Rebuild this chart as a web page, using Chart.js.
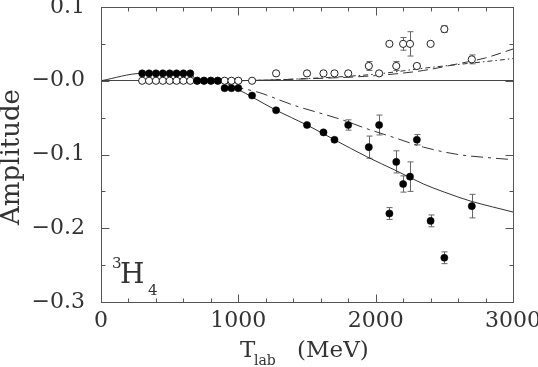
<!DOCTYPE html>
<html>
<head>
<meta charset="utf-8">
<script src="https://cdn.jsdelivr.net/npm/chart.js@4.4.1/dist/chart.umd.min.js"></script>
<style>
  html, body { margin: 0; padding: 0; background: #fff; }
  #wrap { width: 538px; height: 367px; }
</style>
</head>
<body>
<div id="wrap"><canvas id="chart"></canvas></div>
<script>
// 3H4 partial-wave amplitude vs T_lab

// Axis ticks
const xTicks = [0, 1000, 2000, 3000];
const yTicks = [0.1, 0, -0.1, -0.2, -0.3];
const yTickLabels = ['0.1', '\u22120.0', '\u22120.1', '\u22120.2', '\u22120.3'];

// Filled circles (single-energy values, one component)
const filledT   = [300, 350, 400, 450, 500, 550, 600, 650, 700, 750, 800, 850, 900, 950, 1000, 1100, 1275, 1500, 1620, 1700, 1800, 1950, 2025, 2100, 2150, 2200, 2250, 2300, 2400, 2500, 2700];
const filledAmp = [0.01, 0.01, 0.01, 0.01, 0.01, 0.01, 0.01, 0.01, 0, 0, 0, 0, -0.01, -0.01, -0.01, -0.02, -0.04, -0.06, -0.07, -0.08, -0.06, -0.09, -0.06, -0.18, -0.11, -0.14, -0.13, -0.08, -0.19, -0.24, -0.17];
const filledErr = [0, 0, 0, 0, 0, 0, 0, 0, 0, 0, 0, 0, 0, 0, 0, 0, 0, 0, 0, 0, 0.007, 0.015, 0.0135, 0.008, 0.015, 0.011, 0.02, 0.007, 0.008, 0.008, 0.016];

// Open circles (other component)
const openT   = [300, 350, 400, 450, 500, 550, 600, 650, 700, 750, 800, 850, 900, 950, 1000, 1100, 1275, 1500, 1620, 1700, 1800, 1950, 2025, 2100, 2150, 2200, 2250, 2300, 2400, 2500, 2700];
const openAmp = [0, 0, 0, 0, 0, 0, 0, 0, 0, 0, 0, 0, 0, 0, 0, 0, 0.01, 0.01, 0.01, 0.01, 0.01, 0.02, 0.01, 0.05, 0.02, 0.05, 0.05, 0.02, 0.05, 0.07, 0.029];
const openErr = [0, 0, 0, 0, 0, 0, 0, 0, 0, 0, 0, 0, 0, 0, 0, 0, 0, 0, 0, 0, 0, 0.006, 0, 0, 0.006, 0.0086, 0.0165, 0.003, 0, 0.0045, 0.006];

// Curves
const solidT   = [0, 300, 650, 700, 850, 1000, 1100, 1275, 1500, 1700, 1935, 2150, 2348, 2500, 2688, 2850, 3000];
const solidAmp = [0, 0.01, 0.01, 0, 0, -0.012, -0.022, -0.04, -0.06, -0.08, -0.103, -0.122, -0.14, -0.151, -0.163, -0.171, -0.178];

const dashDotLowT   = [950, 1134, 1400, 1740, 1935, 2150, 2348, 2600, 2800, 3000];
const dashDotLowAmp = [-0.008, -0.015, -0.033, -0.052, -0.065, -0.078, -0.09, -0.1, -0.104, -0.107];

const dashedT   = [1000, 1400, 2000, 2350, 2600, 2800, 3000];
const dashedAmp = [0, 0.002, 0.007, 0.014, 0.023, 0.031, 0.043];

const dashDotUpT   = [1000, 1500, 2000, 2350, 2700, 3000];
const dashDotUpAmp = [0, 0.003, 0.009, 0.017, 0.024, 0.03];

const INK = '#333';
const SERIF = "'DejaVu Serif', serif";

function pts(xs, ys) {
  return xs.map((x, i) => ({ x: x, y: ys[i] }));
}

function curve(xs, ys, dash) {
  return {
    type: 'line',
    data: pts(xs, ys),
    borderColor: INK,
    borderWidth: 1,
    borderDash: dash,
    pointRadius: 0,
    fill: false,
    cubicInterpolationMode: 'monotone',
    order: 3
  };
}

// Error bars, frame, inward ticks and titles
const decorPlugin = {
  id: 'decor',
  beforeDatasetsDraw(chart) {
    const { ctx, scales: { x, y } } = chart;
    ctx.save();
    ctx.strokeStyle = '#666';
    ctx.lineWidth = 1;
    const bars = (ts, vs, es) => {
      ts.forEach((t, i) => {
        if (!es[i]) return;
        const px = Math.round(x.getPixelForValue(t)) + 0.5;
        const y1 = y.getPixelForValue(vs[i] + es[i]);
        const y2 = y.getPixelForValue(vs[i] - es[i]);
        ctx.beginPath();
        ctx.moveTo(px, y1); ctx.lineTo(px, y2);
        ctx.moveTo(px - 3, y1); ctx.lineTo(px + 3, y1);
        ctx.moveTo(px - 3, y2); ctx.lineTo(px + 3, y2);
        ctx.stroke();
      });
    };
    bars(filledT, filledAmp, filledErr);
    bars(openT, openAmp, openErr);
    ctx.restore();
  },
  afterDraw(chart) {
    const { ctx, chartArea: a, scales: { x, y } } = chart;
    ctx.save();
    ctx.strokeStyle = '#555';
    ctx.lineWidth = 1;
    const L = Math.round(a.left) + 0.5, R = Math.round(a.right) + 0.5;
    const T = Math.round(a.top) + 0.5, B = Math.round(a.bottom) + 0.5;
    ctx.strokeRect(L, T, R - L, B - T);

    ctx.beginPath();
    for (let t = 0; t <= 3000; t += 200) {
      const px = Math.round(x.getPixelForValue(t)) + 0.5;
      const len = t % 1000 === 0 ? 8 : 4;
      ctx.moveTo(px, B); ctx.lineTo(px, B - len);
      ctx.moveTo(px, T); ctx.lineTo(px, T + len);
    }
    for (let k = -6; k <= 2; k++) {
      const py = Math.round(y.getPixelForValue(k * 0.05)) + 0.5;
      const len = k % 2 === 0 ? 8 : 4;
      ctx.moveTo(L, py); ctx.lineTo(L + len, py);
      ctx.moveTo(R, py); ctx.lineTo(R - len, py);
    }
    ctx.stroke();

    ctx.fillStyle = INK;
    ctx.textBaseline = 'alphabetic';

    // y title
    ctx.save();
    ctx.translate(19, 157);
    ctx.rotate(-Math.PI / 2);
    ctx.font = '26px ' + SERIF;
    ctx.textAlign = 'center';
    ctx.fillText('Amplitude', 0, 0);
    ctx.restore();

    // x title: T_lab (MeV)
    ctx.textAlign = 'left';
    ctx.font = '23px ' + SERIF;
    ctx.fillText('T', 240, 357);
    ctx.font = '14px ' + SERIF;
    ctx.fillText('lab', 254, 365);
    ctx.font = '23px ' + SERIF;
    ctx.fillText('(MeV)', 297, 357);

    // wave label 3H4
    ctx.font = '15px ' + SERIF;
    ctx.fillText('3', 112, 268);
    ctx.font = '28px ' + SERIF;
    ctx.fillText('H', 120, 283);
    ctx.font = '15px ' + SERIF;
    ctx.fillText('4', 148, 295);
    ctx.restore();
  }
};

new Chart(document.getElementById('chart').getContext('2d'), {
  data: {
    datasets: [
      {
        type: 'scatter',
        data: pts(filledT, filledAmp),
        pointRadius: 3.6,
        pointBackgroundColor: '#000',
        pointBorderColor: '#000',
        pointBorderWidth: 0.5,
        order: 1
      },
      {
        type: 'scatter',
        data: pts(openT, openAmp),
        pointRadius: 3.6,
        pointBackgroundColor: '#fff',
        pointBorderColor: '#222',
        pointBorderWidth: 1,
        order: 2
      },
      curve(solidT, solidAmp, []),
      curve(dashDotLowT, dashDotLowAmp, [12, 5, 3, 5]),
      curve(dashedT, dashedAmp, [10, 5]),
      curve(dashDotUpT, dashDotUpAmp, [5, 3, 1.5, 3])
    ]
  },
  options: {
    responsive: true,
    maintainAspectRatio: false,
    animation: false,
    events: [],
    layout: { padding: { top: 7, right: 25, left: 0, bottom: 0 } },
    plugins: {
      legend: { display: false },
      tooltip: { enabled: false }
    },
    scales: {
      x: {
        type: 'linear',
        min: 0,
        max: 3000,
        afterBuildTicks: (s) => { s.ticks = xTicks.map(v => ({ value: v })); },
        afterFit: (s) => { s.height = 65; s.paddingLeft = 0; s.paddingRight = 0; },
        border: { display: false },
        grid: { display: false, drawTicks: false },
        ticks: {
          padding: 6,
          maxRotation: 0,
          color: INK,
          font: { family: SERIF, size: 22 },
          callback: (v) => String(v)
        }
      },
      y: {
        type: 'linear',
        min: -0.3,
        max: 0.1,
        afterBuildTicks: (s) => { s.ticks = yTicks.map(v => ({ value: v })); },
        afterFit: (s) => { s.width = 101; s.paddingTop = 0; s.paddingBottom = 0; },
        border: { display: false },
        grid: {
          drawTicks: false,
          color: (c) => (c.tick && Math.abs(c.tick.value) < 1e-9 ? '#444' : 'rgba(0,0,0,0)'),
          lineWidth: 1
        },
        ticks: {
          padding: 16,
          color: INK,
          font: { family: SERIF, size: 22 },
          callback: (v, i) => yTickLabels[i]
        }
      }
    }
  },
  plugins: [decorPlugin]
});
</script>
</body>
</html>
